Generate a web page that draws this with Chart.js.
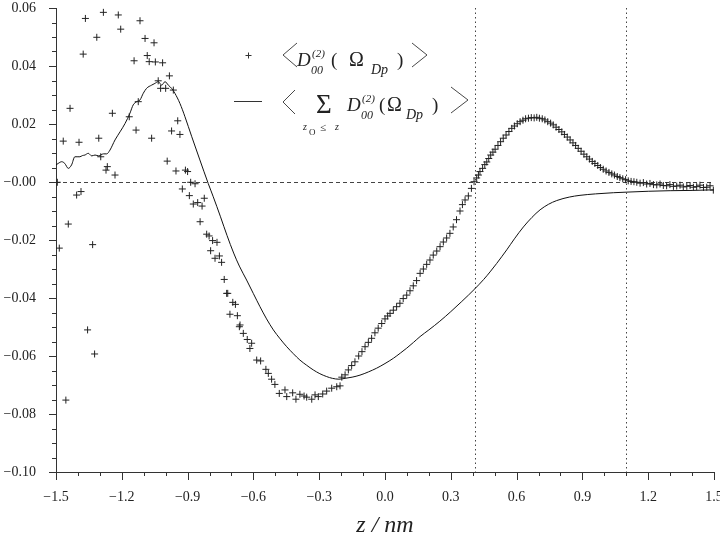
<!DOCTYPE html>
<html>
<head>
<meta charset="utf-8">
<script src="https://cdn.jsdelivr.net/npm/chart.js@4"></script>
<style>
  html, body { margin: 0; padding: 0; background: #fff; }
</style>
</head>
<body>
<canvas id="chart" width="720" height="545"></canvas>
<script>
// <D00(2)(Omega_Dp)> per slab (crosses)
const pointsZ = [
  -1.494, -1.485, -1.467, -1.455, -1.444, -1.436, -1.406, -1.395, -1.386, -1.376,
  -1.366, -1.356, -1.333, -1.324, -1.314, -1.305, -1.296, -1.284, -1.272, -1.266,
  -1.243, -1.231, -1.216, -1.205, -1.166, -1.144, -1.135, -1.125, -1.117, -1.094,
  -1.084, -1.075, -1.064, -1.053, -1.047, -1.034, -1.023, -1.014, -1.000, -0.993,
  -0.983, -0.973, -0.965, -0.953, -0.945, -0.935, -0.924, -0.910, -0.900, -0.892,
  -0.886, -0.874, -0.866, -0.854, -0.843, -0.834, -0.824, -0.813, -0.802, -0.795,
  -0.786, -0.775, -0.766, -0.755, -0.745, -0.733, -0.722, -0.717, -0.707, -0.694,
  -0.682, -0.673, -0.664, -0.661, -0.646, -0.628, -0.616, -0.608, -0.585, -0.567,
  -0.543, -0.532, -0.517, -0.502, -0.482, -0.456, -0.448, -0.421, -0.406, -0.388,
  -0.369, -0.357, -0.334, -0.319, -0.304, -0.284, -0.266, -0.243, -0.220, -0.205,
  -0.197, -0.182, -0.167, -0.152, -0.137, -0.120, -0.105, -0.091, -0.076, -0.061,
  -0.046, -0.031, -0.015, 0.000, 0.012, 0.023, 0.038, 0.053, 0.068, 0.083,
  0.099, 0.114, 0.129, 0.144, 0.160, 0.175, 0.190, 0.205, 0.220, 0.236,
  0.251, 0.266, 0.281, 0.296, 0.311, 0.326, 0.342, 0.353, 0.365, 0.380,
  0.394, 0.406, 0.418, 0.426, 0.433, 0.445, 0.455, 0.464, 0.473, 0.482,
  0.492, 0.502, 0.515, 0.527, 0.539, 0.552, 0.565, 0.578, 0.590, 0.603,
  0.616, 0.629, 0.641, 0.654, 0.667, 0.680, 0.692, 0.704, 0.717, 0.729,
  0.742, 0.755, 0.767, 0.780, 0.793, 0.806, 0.818, 0.831, 0.844, 0.857,
  0.869, 0.881, 0.894, 0.907, 0.920, 0.932, 0.945, 0.957, 0.970, 0.982,
  0.995, 1.008, 1.021, 1.034, 1.046, 1.059, 1.071, 1.084, 1.097, 1.109,
  1.122, 1.135, 1.148, 1.163, 1.178, 1.193, 1.208, 1.224, 1.239, 1.254,
  1.269, 1.284, 1.299, 1.315, 1.330, 1.345, 1.360, 1.376, 1.391, 1.406,
  1.421, 1.436, 1.452, 1.467, 1.482, 1.497
];
const pointsV = [
  -0.0001, -0.0228, 0.0141, -0.0752, -0.0145, 0.0254, -0.0045, 0.0137, -0.0033, 0.0441,
  0.0564, -0.0510, -0.0216, -0.0593, 0.0499, 0.0151, 0.0087, 0.0585, 0.0041, 0.0053,
  0.0237, 0.0024, 0.0576, 0.0527, 0.0225, 0.0418, 0.0179, 0.0277, 0.0556, 0.0495,
  0.0436, 0.0415, 0.0151, 0.0480, 0.0414, 0.0349, 0.0323, 0.0411, 0.0323, 0.0072,
  0.0366, 0.0176, 0.0317, 0.0038, 0.0211, 0.0164, -0.0024, 0.0041, 0.0036, -0.0047,
  -0.0001, -0.0076, -0.0006, -0.0071, -0.0137, -0.0083, -0.0056, -0.0180, -0.0186, -0.0237,
  -0.0202, -0.0263, -0.0208, -0.0255, -0.0277, -0.0336, -0.0384, -0.0384, -0.0456, -0.0415,
  -0.0422, -0.0461, -0.0499, -0.0493, -0.0522, -0.0543, -0.0574, -0.0556, -0.0614, -0.0617,
  -0.0646, -0.0660, -0.0680, -0.0698, -0.0729, -0.0717, -0.0740, -0.0727, -0.0749, -0.0732,
  -0.0738, -0.0742, -0.0749, -0.0734, -0.0740, -0.0731, -0.0721, -0.0711, -0.0706, -0.0703,
  -0.0673, -0.0665, -0.0648, -0.0633, -0.0620, -0.0600, -0.0585, -0.0568, -0.0553, -0.0539,
  -0.0520, -0.0504, -0.0488, -0.0472, -0.0462, -0.0453, -0.0442, -0.0430, -0.0418, -0.0402,
  -0.0390, -0.0375, -0.0358, -0.0340, -0.0315, -0.0300, -0.0284, -0.0269, -0.0252, -0.0238,
  -0.0223, -0.0207, -0.0193, -0.0177, -0.0155, -0.0130, -0.0100, -0.0078, -0.0062, -0.0048,
  -0.0022, 0.0001, 0.0014, 0.0024, 0.0036, 0.0047, 0.0060, 0.0069, 0.0081, 0.0093,
  0.0103, 0.0113, 0.0126, 0.0139, 0.0151, 0.0162, 0.0174, 0.0185, 0.0193, 0.0201,
  0.0208, 0.0213, 0.0218, 0.0220, 0.0222, 0.0221, 0.0223, 0.0220, 0.0218, 0.0214,
  0.0208, 0.0203, 0.0197, 0.0189, 0.0181, 0.0173, 0.0164, 0.0155, 0.0145, 0.0135,
  0.0126, 0.0116, 0.0106, 0.0096, 0.0087, 0.0079, 0.0071, 0.0064, 0.0057, 0.0050,
  0.0044, 0.0038, 0.0033, 0.0028, 0.0024, 0.0019, 0.0015, 0.0011, 0.0008, 0.0004,
  0.0002, 0.0001, -0.0001, -0.0004, -0.0002, -0.0007, -0.0005, -0.0009, -0.0010, -0.0007,
  -0.0012, -0.0013, -0.0009, -0.0015, -0.0014, -0.0011, -0.0017, -0.0015, -0.0012, -0.0018,
  -0.0016, -0.0011, -0.0019, -0.0018, -0.0013, -0.0028
];

// cumulative sum over z_O <= z (solid line)
const sumZ = [
  -1.500, -1.490, -1.474, -1.460, -1.444, -1.429, -1.414, -1.400, -1.391, -1.380,
  -1.368, -1.353, -1.337, -1.322, -1.305, -1.284, -1.269, -1.254, -1.231, -1.208,
  -1.185, -1.163, -1.148, -1.132, -1.117, -1.102, -1.087, -1.064, -1.049, -1.034,
  -1.018, -1.003, -0.988, -0.973, -0.958, -0.935, -0.912, -0.881, -0.844, -0.806,
  -0.783, -0.750, -0.720, -0.690, -0.664, -0.631, -0.600, -0.570, -0.540, -0.509,
  -0.478, -0.448, -0.418, -0.388, -0.357, -0.327, -0.297, -0.266, -0.240, -0.210,
  -0.182, -0.150, -0.114, -0.076, -0.038, 0.000, 0.038, 0.070, 0.099, 0.130,
  0.160, 0.200, 0.250, 0.300, 0.350, 0.410, 0.450, 0.479, 0.509, 0.555,
  0.590, 0.631, 0.670, 0.707, 0.745, 0.783, 0.840, 0.889, 0.960, 1.041,
  1.100, 1.200, 1.300, 1.400, 1.500
];
const sumV = [
  0.0059, 0.0064, 0.0070, 0.0064, 0.0047, 0.0059, 0.0087, 0.0087, 0.0087, 0.0091,
  0.0093, 0.0099, 0.0090, 0.0093, 0.0090, 0.0097, 0.0097, 0.0110, 0.0145, 0.0173,
  0.0202, 0.0237, 0.0266, 0.0277, 0.0283, 0.0306, 0.0323, 0.0334, 0.0340, 0.0346,
  0.0334, 0.0346, 0.0334, 0.0323, 0.0306, 0.0271, 0.0225, 0.0156, 0.0076, -0.0005,
  -0.0051, -0.0120, -0.0185, -0.0245, -0.0290, -0.0338, -0.0385, -0.0430, -0.0472, -0.0510,
  -0.0541, -0.0568, -0.0592, -0.0614, -0.0632, -0.0648, -0.0661, -0.0671, -0.0677, -0.0680,
  -0.0677, -0.0673, -0.0666, -0.0655, -0.0642, -0.0626, -0.0608, -0.0590, -0.0573, -0.0553,
  -0.0533, -0.0510, -0.0480, -0.0447, -0.0412, -0.0368, -0.0336, -0.0310, -0.0281, -0.0234,
  -0.0196, -0.0155, -0.0122, -0.0096, -0.0077, -0.0064, -0.0052, -0.0046, -0.0041, -0.0037,
  -0.0035, -0.0032, -0.0030, -0.0029, -0.0027
];

const xTickValues = [-1.5, -1.2, -0.9, -0.6, -0.3, 0.0, 0.3, 0.6, 0.9, 1.2, 1.5];
const yTickValues = [-0.10, -0.08, -0.06, -0.04, -0.02, 0.00, 0.02, 0.04, 0.06];
const boundaryZ = [0.41, 1.10];

const serif = "'Liberation Serif', 'DejaVu Serif', serif";
const ink = '#222';

function fmtX(v) {
  if (Math.abs(v) < 1e-9) return '0.0';
  return (v < 0 ? '\u2212' : '') + Math.abs(v).toFixed(1);
}
function fmtY(v) {
  // the original prints the zero line as -0.00
  return (v < 0.001 ? '\u2212' : '') + Math.abs(v).toFixed(2);
}

function text(ctx, s, x, y, size, italic) {
  ctx.font = (italic ? 'italic ' : '') + size + 'px ' + serif;
  ctx.fillText(s, x, y);
}
function bracket(ctx, x1, x2, top, bottom) {
  ctx.beginPath();
  ctx.moveTo(x1, top);
  ctx.lineTo(x2, (top + bottom) / 2);
  ctx.lineTo(x1, bottom);
  ctx.stroke();
}

const decorations = {
  id: 'decorations',
  beforeDatasetsDraw(chart) {
    const { ctx, chartArea: a, scales: { x, y } } = chart;
    ctx.save();
    ctx.strokeStyle = '#444';
    ctx.lineWidth = 1;
    ctx.setLineDash([4, 3]);
    const y0 = Math.round(y.getPixelForValue(0)) + 0.5;
    ctx.beginPath();
    ctx.moveTo(a.left, y0);
    ctx.lineTo(a.right, y0);
    ctx.stroke();

    ctx.setLineDash([1.5, 3]);
    boundaryZ.forEach(z => {
      const px = Math.round(x.getPixelForValue(z)) + 0.5;
      ctx.beginPath();
      ctx.moveTo(px, a.top);
      ctx.lineTo(px, a.bottom);
      ctx.stroke();
    });
    ctx.restore();
  },
  afterDraw(chart) {
    const { ctx, chartArea: a, scales: { x, y } } = chart;
    ctx.save();
    ctx.strokeStyle = '#333';
    ctx.lineWidth = 1;

    // tick marks, minor every 0.1 on x and 0.005 on y
    for (let k = -15; k <= 15; k++) {
      const px = Math.round(x.getPixelForValue(k / 10)) + 0.5;
      const len = k % 3 === 0 ? 8 : 4;
      ctx.beginPath();
      ctx.moveTo(px, a.bottom);
      ctx.lineTo(px, a.bottom + len);
      ctx.stroke();
    }
    for (let k = -20; k <= 12; k++) {
      const py = Math.round(y.getPixelForValue(k * 0.005)) + 0.5;
      const len = k % 4 === 0 ? 7 : 4;
      ctx.beginPath();
      ctx.moveTo(a.left, py);
      ctx.lineTo(a.left - len, py);
      ctx.stroke();
    }

    // legend
    ctx.fillStyle = ink;
    ctx.strokeStyle = '#333';
    ctx.textBaseline = 'alphabetic';
    ctx.textAlign = 'left';

    // row 1: crosses
    ctx.beginPath();
    ctx.moveTo(245.5, 55.5); ctx.lineTo(251.5, 55.5);
    ctx.moveTo(248.5, 52.5); ctx.lineTo(248.5, 58.5);
    ctx.stroke();
    ctx.lineWidth = 0.9;
    bracket(ctx, 297, 283, 43, 67);
    text(ctx, 'D', 297, 66, 19, true);
    text(ctx, '(2)', 312, 57, 11, true);
    text(ctx, '00', 311, 74, 12, true);
    text(ctx, '(', 331, 66, 19, false);
    text(ctx, '\u03A9', 349, 66, 20, false);
    text(ctx, 'Dp', 371, 74, 14, true);
    text(ctx, ')', 397, 66, 19, false);
    bracket(ctx, 412, 427, 43, 67);

    // row 2: solid line
    ctx.lineWidth = 1;
    ctx.beginPath();
    ctx.moveTo(234, 101.5); ctx.lineTo(262, 101.5);
    ctx.stroke();
    ctx.lineWidth = 0.9;
    bracket(ctx, 295, 283, 90, 114);
    text(ctx, '\u03A3', 316, 113, 27, false);
    text(ctx, 'z', 303, 130, 10, true);
    text(ctx, 'O', 309, 135, 9, false);
    text(ctx, '\u2264', 320, 131, 11, false);
    text(ctx, 'z', 335, 130, 10, true);
    text(ctx, 'D', 347, 111, 19, true);
    text(ctx, '(2)', 362, 102, 11, true);
    text(ctx, '00', 361, 119, 12, true);
    text(ctx, '(', 379, 111, 19, false);
    text(ctx, '\u03A9', 387, 111, 20, false);
    text(ctx, 'Dp', 406, 119, 14, true);
    text(ctx, ')', 432, 111, 19, false);
    bracket(ctx, 451, 468, 87, 113);
    ctx.restore();
  }
};

const toXY = (zs, vs) => zs.map((z, i) => ({ x: z, y: vs[i] }));

const ctx = document.getElementById('chart').getContext('2d');
new Chart(ctx, {
  type: 'scatter',
  data: {
    datasets: [
      {
        label: '<D00(2)(\u03A9Dp)>',
        data: toXY(pointsZ, pointsV),
        pointStyle: 'cross',
        pointRadius: 3.5,
        borderColor: '#222',
        borderWidth: 1,
        showLine: false
      },
      {
        label: '<\u03A3 D00(2)(\u03A9Dp)>',
        data: toXY(sumZ, sumV),
        showLine: true,
        pointRadius: 0,
        borderColor: '#111',
        borderWidth: 1,
        cubicInterpolationMode: 'monotone'
      }
    ]
  },
  options: {
    responsive: false,
    animation: false,
    layout: { padding: { top: 8, right: 6, left: 0, bottom: 0 } },
    plugins: {
      legend: { display: false },
      tooltip: { enabled: false }
    },
    scales: {
      x: {
        type: 'linear',
        min: -1.5,
        max: 1.5,
        afterBuildTicks: s => { s.ticks = xTickValues.map(v => ({ value: v })); },
        afterFit: s => { s.height = 73; s.paddingLeft = 0; s.paddingRight = 0; },
        grid: { display: false, drawTicks: false },
        border: { display: true, color: '#333', width: 1 },
        ticks: {
          callback: v => fmtX(v),
          font: { family: serif, size: 14 },
          color: ink,
          padding: 17,
          maxRotation: 0,
          autoSkip: false
        },
        title: {
          display: true,
          text: 'z / nm',
          font: { family: serif, size: 24, style: 'italic' },
          color: ink,
          padding: { top: 0, bottom: 5 }
        }
      },
      y: {
        type: 'linear',
        min: -0.10,
        max: 0.06,
        afterBuildTicks: s => { s.ticks = yTickValues.map(v => ({ value: v })); },
        afterFit: s => { s.width = 56; s.paddingTop = 0; s.paddingBottom = 0; },
        grid: { display: false, drawTicks: false },
        border: { display: true, color: '#333', width: 1 },
        ticks: {
          callback: v => fmtY(v),
          font: { family: serif, size: 14 },
          color: ink,
          padding: 20,
          autoSkip: false
        }
      }
    }
  },
  plugins: [decorations]
});
</script>
</body>
</html>
